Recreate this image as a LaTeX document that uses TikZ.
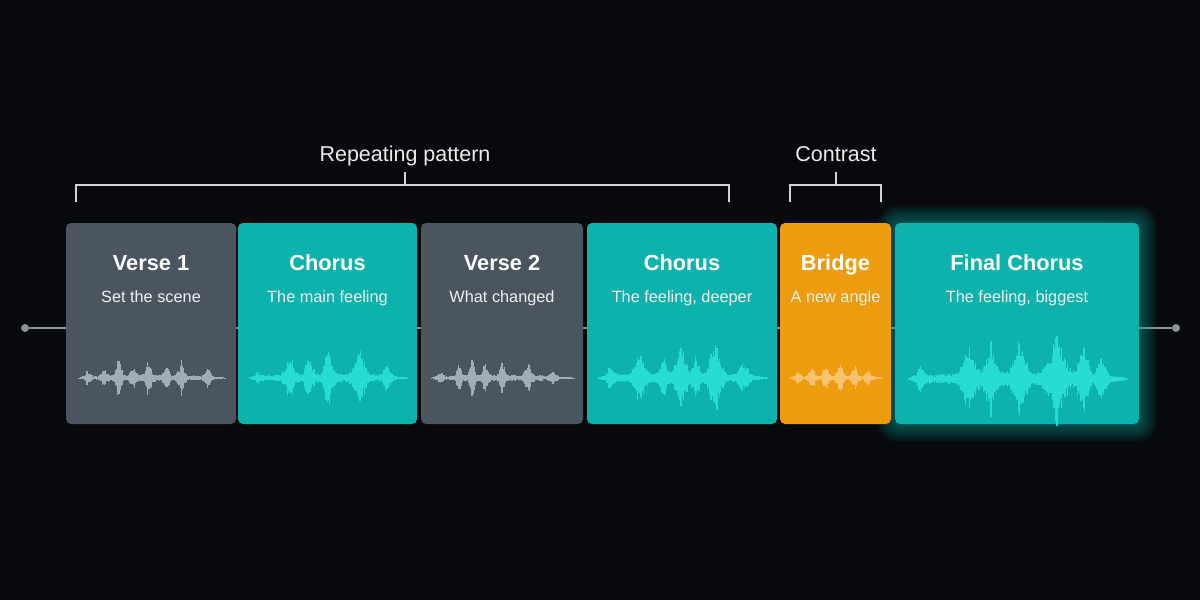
\documentclass[tikz,border=0pt]{standalone}
\usepackage{fontspec}
\setmainfont{Liberation Sans}
\definecolor{bg}{RGB}{7,9,12}
\definecolor{slatebox}{RGB}{74,85,96}
\definecolor{tealbox}{RGB}{14,178,172}
\definecolor{orangebox}{RGB}{236,156,12}
\definecolor{wavegray}{RGB}{172,182,190}
\definecolor{waveteal}{RGB}{42,226,214}
\definecolor{waveorange}{RGB}{250,198,122}
\definecolor{linegray}{RGB}{140,146,152}
\definecolor{brk}{RGB}{210,212,216}
\newcommand\drawwave[6]{%
  \pgfmathsetmacro\wa{#1}\pgfmathsetmacro\wb{#2}%
  \pgfmathsetmacro\wnext{#1+1.2}%
  \foreach \xx in {\wa,\wnext,...,\wb}{%
    \pgfmathsetmacro\wt{(\xx-\wa)/(\wb-\wa)}%
    \xdef\wenv{0.14}%
    \foreach \p/\h/\w in {#5}{%
      \pgfmathsetmacro\wm{max(0,1-abs(\wt-\p)/\w)}%
      \pgfmathsetmacro\wval{max(\wenv,0.14+\h*\wm*\wm)}%
      \xdef\wenv{\wval}}%
    \pgfmathsetmacro\au{#4*\wenv*sqrt(abs(sin(180*\wt)))*(0.55+0.45*rnd)}%
    \pgfmathsetmacro\ad{\au*(0.8+0.3*rnd)}%
    \draw[#6,line width=1.3pt,opacity=0.9] (\xx,#3-\au) -- (\xx,#3+\ad);
  }}
\tikzset{
  sect/.style={rectangle,rounded corners=5pt,minimum height=201pt,inner sep=0pt},
  ttl/.style={text=white,font=\bfseries\fontsize{21.8}{24}\selectfont,anchor=base},
  sub/.style={text=white!94!black,font=\fontsize{16.3}{18}\selectfont,anchor=base},
  lbl/.style={text=white!92!black,font=\fontsize{21.5}{24}\selectfont,anchor=base},
  brkline/.style={draw=brk,line width=1.5pt},
  tline/.style={draw=linegray,line width=2pt},
  dot/.style={circle,fill=linegray,inner sep=0pt,minimum size=8pt}
}
\begin{document}
\begin{tikzpicture}[x=1pt,y=-1pt]
\fill[bg] (0,0) rectangle (1200,600);
\useasboundingbox (0,0) rectangle (1200,600);
\pgfmathsetseed{11}
% timeline
\node[dot] (ldot) at (25,328) {};
\node[dot] (rdot) at (1176,328) {};
\draw[tline] (ldot) -- (rdot);
% glow for final chorus
\foreach \g in {1,...,14}{
  \fill[tealbox,opacity=0.04,rounded corners=6pt+\g pt] (895-\g*1.3,223-\g*1.3) rectangle (1139+\g*1.3,424+\g*1.3);
}
% boxes
\node[sect,fill=slatebox,minimum width=170pt] (v1) at (151,323.5) {};
\node[sect,fill=tealbox,minimum width=179pt] (c1) at (327.5,323.5) {};
\node[sect,fill=slatebox,minimum width=162pt] (v2) at (502,323.5) {};
\node[sect,fill=tealbox,minimum width=190pt] (c2) at (682,323.5) {};
\node[sect,fill=orangebox,minimum width=111pt] (br) at (835.5,323.5) {};
\node[sect,fill=tealbox,minimum width=244pt] (fc) at (1017,323.5) {};
% titles
\node[ttl] (v1t) at (151,270) {Verse 1};
\node[sub] (v1s) at (151,302) {Set the scene};
\node[ttl] (c1t) at (327.5,270) {Chorus};
\node[sub] (c1s) at (327.5,302) {The main feeling};
\node[ttl] (v2t) at (502,270) {Verse 2};
\node[sub] (v2s) at (502,302) {What changed};
\node[ttl] (c2t) at (682,270) {Chorus};
\node[sub] (c2s) at (682,302) {The feeling, deeper};
\node[ttl] (brt) at (835.5,270) {Bridge};
\node[sub] (brs) at (835.5,302) {A new angle};
\node[ttl] (fct) at (1017,270) {Final Chorus};
\node[sub] (fcs) at (1017,302) {The feeling, biggest};
% waveforms
\drawwave{77}{226}{378}{23}{0.07/0.7/0.05,0.18/0.6/0.05,0.28/1.0/0.055,0.38/0.5/0.05,0.48/0.8/0.05,0.6/0.6/0.05,0.7/0.85/0.05,0.88/0.7/0.05}{wavegray}
\drawwave{248}{408}{378}{34}{0.06/0.4/0.05,0.26/0.85/0.07,0.38/0.6/0.06,0.5/0.8/0.065,0.7/1.0/0.08,0.87/0.6/0.06}{waveteal}
\drawwave{430}{575}{378}{23}{0.07/0.6/0.05,0.2/0.7/0.05,0.29/1.0/0.05,0.38/0.6/0.05,0.5/0.7/0.05,0.68/0.9/0.05,0.85/0.5/0.05}{wavegray}
\drawwave{597}{768}{378}{40}{0.08/0.55/0.06,0.25/0.75/0.075,0.39/0.45/0.06,0.49/0.9/0.07,0.58/0.55/0.05,0.69/1.0/0.08,0.86/0.6/0.065}{waveteal}
\drawwave{788}{883}{378}{17}{0.1/0.75/0.075,0.25/0.9/0.075,0.4/0.8/0.075,0.55/0.9/0.075,0.7/0.85/0.075,0.85/0.8/0.075}{waveorange}
\drawwave{907}{1128}{379}{50}{0.06/0.45/0.06,0.28/0.75/0.07,0.38/0.7/0.065,0.51/0.7/0.07,0.68/1.0/0.09,0.8/0.8/0.065,0.88/0.65/0.055}{waveteal}
% brackets
\coordinate (rpL) at (76,202);
\coordinate (rpR) at (729,202);
\coordinate (rpM) at (405,172);
\draw[brkline] (rpL) -- (76,185) -- (729,185) -- (rpR);
\draw[brkline] (rpM) -- (405,185);
\node[lbl] (rpt) at (405,161) {Repeating pattern};
\coordinate (ctL) at (790,202);
\coordinate (ctR) at (881,202);
\coordinate (ctM) at (836,172);
\draw[brkline] (ctL) -- (790,185) -- (881,185) -- (ctR);
\draw[brkline] (ctM) -- (836,185);
\node[lbl] (ctt) at (836,161) {Contrast};
\end{tikzpicture}
\end{document}
